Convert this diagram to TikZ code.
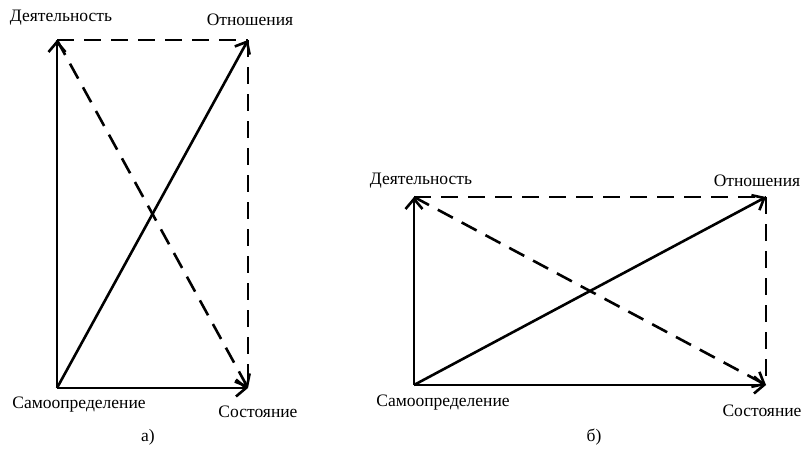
\documentclass[tikz,border=0pt]{standalone}
\usepackage{fontspec}
\setmainfont{Liberation Serif}
\usetikzlibrary{arrows.meta, positioning}

\begin{document}
\begin{tikzpicture}[x=1pt, y=-1pt,
    lbl/.style={font=\fontsize{17.5}{20}\selectfont, inner sep=0pt},
    arr/.style={-{Straight Barb[length=10pt, width=17pt, line width=2.6pt]}, line width=2.6pt},
    edge/.style={line width=2.6pt},
    dsh/.style={dash pattern=on 17pt off 10pt}]
    \useasboundingbox (0,0) rectangle (804,453);

    % a)
    \coordinate (a1) at (57,40);   \coordinate (a2) at (248,40);
    \coordinate (a3) at (57,388);  \coordinate (a4) at (248,388);
    \node[lbl] (la1) at (61,18)  {Деятельность};
    \node[lbl] (la2) at (250,20) {Отношения};
    \node[lbl] (la3) at (79,405) {Самоопределение};
    \node[lbl] (la4) at (258,412) {Состояние};
    \node[lbl] (ca) at (148,437) {а)};

    \draw[arr] (a3) -- (a1);
    \draw[arr] (a3) -- (a4);
    \draw[arr] (a3) -- (a2);
    \draw[edge, dsh] (a1) -- (a2);
    \draw[edge, dsh] (a2) -- (a4);
    \draw[arr, dsh] (a1) -- (a4);

    % b)
    \coordinate (b1) at (414,197); \coordinate (b2) at (766,197);
    \coordinate (b3) at (414,385); \coordinate (b4) at (766,385);
    \node[lbl] (lb1) at (421,181) {Деятельность};
    \node[lbl] (lb2) at (757,181) {Отношения};
    \node[lbl] (lb3) at (443,403) {Самоопределение};
    \node[lbl] (lb4) at (762,411) {Состояние};
    \node[lbl] (cb) at (594,437) {б)};

    \draw[arr] (b3) -- (b1);
    \draw[arr] (b3) -- (b4);
    \draw[arr] (b3) -- (b2);
    \draw[edge, dsh] (b1) -- (b2);
    \draw[edge, dsh] (b2) -- (b4);
    \draw[arr, dsh] (b1) -- (b4);
\end{tikzpicture}
\end{document}
